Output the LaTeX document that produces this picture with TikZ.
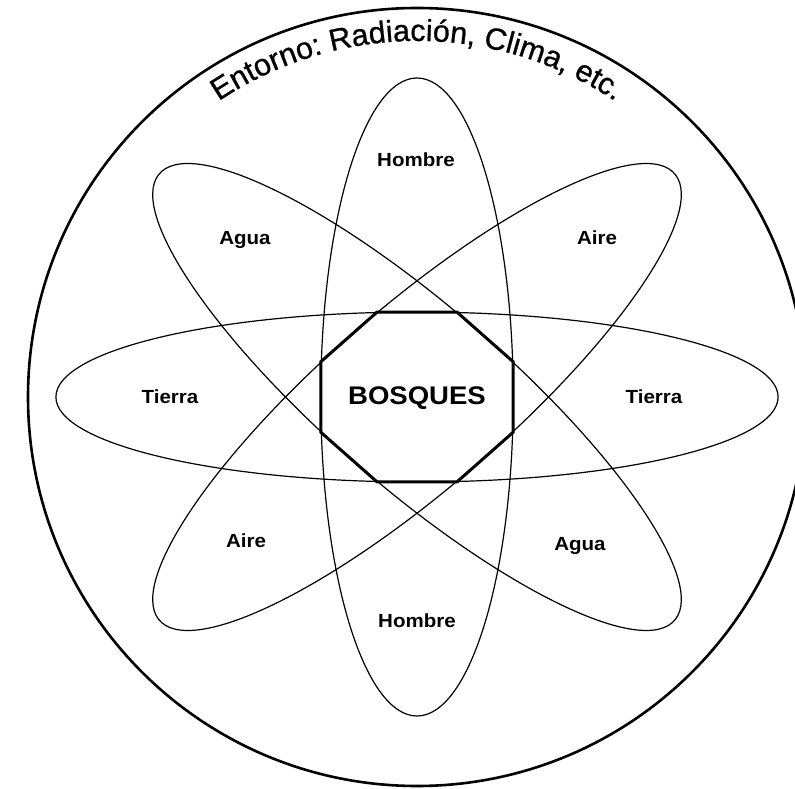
\documentclass[tikz,border=0pt]{standalone}
\usepackage{fontspec}
\setmainfont{Liberation Sans}
\newfontfamily\labfont[FakeStretch=1.08]{Liberation Sans}
\newfontfamily\arcfont[FakeBold=0.8]{Liberation Sans}
\usetikzlibrary{decorations.text,calc}
\begin{document}
\begin{tikzpicture}[x=1pt,y=1pt,
  orbit/.style={draw=black, line width=1.2pt},
  lab/.style={font=\labfont\bfseries\fontsize{19}{19}\selectfont, inner sep=0pt, anchor=base},
  core/.style={font=\labfont\bfseries\fontsize{25.5}{25.5}\selectfont, inner sep=0pt, anchor=base}]
\useasboundingbox (0,0) rectangle (795,788);
\clip (0,0) rectangle (795,788);
\coordinate (C) at (417,391);
\draw[line width=2.6pt] (C) circle[radius=389];
\begin{scope}[shift={(C)}, xscale=1.132]
  \foreach \a in {0,45,90,135}
    \draw[orbit, rotate=\a] (0,0) ellipse[x radius=319, y radius=85];
  \draw[line width=3pt, line join=miter] (22.5:92)
    \foreach \k in {1,...,7}{ -- (22.5+45*\k:92)} -- cycle;
\end{scope}
\path[decorate, decoration={text along path,
    text={|\arcfont\fontsize{30.5}{30.5}\selectfont|Entorno: Radiación, Clima, etc.},
    text align=center}]
  ($(C)+(150:356)$) arc[start angle=150, end angle=30, radius=356];
\node[core] (bosques) at (417,383) {BOSQUES};
\node[lab] (hombre1) at (416,621) {Hombre};
\node[lab] (agua1) at (245,543) {Agua};
\node[lab] (aire1) at (597,543) {Aire};
\node[lab] (tierra1) at (170,384) {Tierra};
\node[lab] (tierra2) at (654,384) {Tierra};
\node[lab] (aire2) at (246,241) {Aire};
\node[lab] (agua2) at (580,238) {Agua};
\node[lab] (hombre2) at (417,161) {Hombre};
\end{tikzpicture}
\end{document}
